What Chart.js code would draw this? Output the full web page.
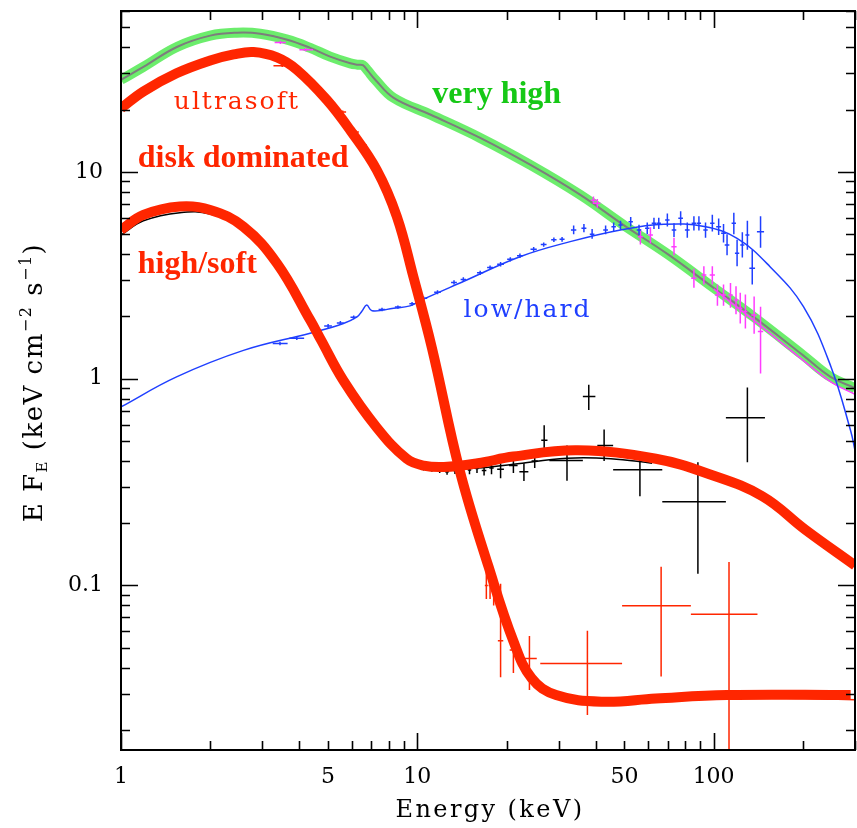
<!DOCTYPE html>
<html>
<head>
<meta charset="utf-8">
<script src="https://cdn.jsdelivr.net/npm/chart.js@4.4.1/dist/chart.umd.min.js"></script>
<style>
  html, body { margin: 0; padding: 0; background: #fff; }
  #wrap { width: 857px; height: 828px; }
</style>
</head>
<body>
<div id="wrap"><canvas id="spec" width="857" height="828"></canvas></div>
<script>
"use strict";
// ---- axis ticks ----
const xTickValues = [1, 2, 3, 4, 5, 6, 7, 8, 9, 10, 20, 30, 40, 50, 60, 70, 80, 90, 100, 200, 300];
const xTickLabels = [1, 5, 10, 50, 100];
const xMajorTicks = [1, 10, 100];
const yTickValues = [0.02, 0.03, 0.04, 0.05, 0.06, 0.07, 0.08, 0.09,
  0.1, 0.2, 0.3, 0.4, 0.5, 0.6, 0.7, 0.8, 0.9,
  1, 2, 3, 4, 5, 6, 7, 8, 9, 10, 20, 30, 40, 50, 60];
const yTickLabels = [0.1, 1, 10];
const yMajorTicks = [0.1, 1, 10];

// ---- model curves (energy keV, E F_E) ----
const veryHighE = [1, 1.19, 1.55, 2.0, 2.46, 2.95, 3.64, 4.35, 5.08, 5.94, 6.3, 6.55, 6.8, 7.2, 8.32, 11.1, 16.3, 24.1, 35.5, 50, 70, 100, 136.5, 200, 248, 300];
const veryHighF = [27.9, 32.2, 40.3, 45.6, 47.1, 46.6, 43.6, 39.8, 36.1, 33.5, 33.0, 32.8, 30.9, 28.0, 22.8, 18.9, 14.6, 10.8, 7.74, 5.5, 4.0, 2.75, 1.99, 1.30, 1.02, 0.90];

const veryHighModelE = [100, 140, 200, 250, 300];
const veryHighModelF = [2.72, 1.86, 1.23, 0.96, 0.84];

const ultrasoftE = [1, 1.19, 1.54, 2.0, 2.4, 2.8, 3.36, 3.92, 4.95, 5.94, 7.3, 8.53, 9.7, 11.2, 13.9, 17.4, 21.1, 24.3, 29.4, 42.2, 63.8, 111, 290];
const ultrasoftF = [20.3, 24.5, 30.0, 34.6, 37.0, 38.0, 35.8, 31.2, 22.3, 15.9, 10.2, 6.08, 3.11, 1.41, 0.36, 0.123, 0.0538, 0.0356, 0.0295, 0.0274, 0.0284, 0.0295, 0.0295];
const ultrasoftTailE = [60, 110, 200, 300];
const ultrasoftTailF = [0.0283, 0.0288, 0.0284, 0.0280];

const highSoftE = [1, 1.19, 1.58, 2.0, 2.59, 3.36, 4.35, 4.73, 5.63, 7.3, 9.2, 10.5, 12.3, 16, 21.1, 34.8, 63.8, 96.8, 146, 204, 300];
const highSoftF = [5.24, 6.19, 6.8, 6.55, 5.43, 3.61, 1.92, 1.54, 0.98, 0.58, 0.41, 0.38, 0.374, 0.39, 0.42, 0.45, 0.41, 0.345, 0.27, 0.186, 0.125];
const highSoftModelE = [1, 1.19, 1.58, 2.0, 2.59, 3.36, 4.35, 5.63, 7.3, 9.2, 12.1, 16, 21.1, 32, 45, 62];
const highSoftModelF = [4.95, 5.8, 6.35, 6.25, 5.3, 3.62, 1.95, 1.0, 0.59, 0.40, 0.365, 0.37, 0.386, 0.412, 0.41, 0.39];

const lowHardE = [1, 1.54, 2.59, 4.35, 5.63, 6.26, 6.5, 6.75, 7.03, 8.32, 9.45, 10.2, 14.3, 22.2, 32.8, 48.5, 67.9, 93, 120, 155, 201, 249, 290, 300];
const lowHardF = [0.73, 1.02, 1.37, 1.66, 1.85, 1.99, 2.12, 2.27, 2.13, 2.19, 2.25, 2.38, 2.95, 3.89, 4.6, 5.24, 5.58, 5.44, 4.77, 3.48, 2.23, 1.14, 0.56, 0.45];

// ---- data points: [E, Elo, Ehi, F, Flo, Fhi] ----
const lowHardPoints = [
  [3.44, 3.25, 3.65, 1.48, 1.45, 1.51], [3.92, 3.7, 4.15, 1.57, 1.54, 1.60],
  [4.5, 4.35, 4.65, 1.73, 1.69, 1.77], [5.0, 4.85, 5.15, 1.80, 1.76, 1.84],
  [5.5, 5.35, 5.65, 1.86, 1.82, 1.90], [6.1, 5.95, 6.25, 1.98, 1.94, 2.02],
  [7.6, 7.4, 7.8, 2.16, 2.12, 2.20], [8.6, 8.4, 8.8, 2.22, 2.18, 2.26],
  [9.6, 9.4, 9.8, 2.30, 2.25, 2.35], [10.5, 10.3, 10.8, 2.45, 2.40, 2.50],
  [11.7, 11.4, 12.0, 2.62, 2.56, 2.68], [13.3, 13.0, 13.6, 2.92, 2.85, 2.99],
  [14.3, 14.0, 14.6, 3.02, 2.95, 3.09], [16.3, 15.9, 16.7, 3.25, 3.17, 3.33],
  [17.6, 17.2, 18.0, 3.45, 3.37, 3.53], [19.1, 18.6, 19.6, 3.58, 3.49, 3.67],
  [20.6, 20.1, 21.1, 3.78, 3.69, 3.87], [22.2, 21.7, 22.7, 3.93, 3.83, 4.03],
  [24.7, 24.1, 25.3, 4.22, 4.11, 4.33], [26.7, 26.1, 27.3, 4.45, 4.34, 4.56],
  [28.9, 28.3, 29.5, 4.70, 4.58, 4.82], [30.8, 30.2, 31.4, 4.72, 4.60, 4.84],
  [33.7, 33.0, 34.4, 5.24, 5.0, 5.5], [36.5, 35.8, 37.2, 5.34, 5.1, 5.6],
  [38.9, 38.2, 39.6, 5.0, 4.75, 5.3], [43.2, 42.4, 44.0, 5.24, 5.0, 5.5],
  [46.0, 45.2, 46.8, 5.43, 5.15, 5.7], [48.5, 47.7, 49.3, 5.53, 5.25, 5.8],
  [52.5, 51.6, 53.4, 5.74, 5.45, 6.05], [56.0, 55.0, 57.0, 5.24, 4.95, 5.55],
  [59.7, 58.7, 60.7, 5.34, 5.0, 5.7], [62.9, 61.8, 64.0, 5.65, 5.3, 6.0],
  [65.3, 64.2, 66.4, 5.65, 5.3, 6.0], [69.8, 68.6, 71.0, 5.86, 5.45, 6.3],
  [73.5, 72.2, 74.8, 5.24, 4.85, 5.65], [77.4, 76.0, 78.8, 5.97, 5.5, 6.45],
  [81.5, 80.0, 83.0, 5.24, 4.8, 5.7], [85.8, 84.3, 87.3, 5.65, 5.2, 6.1],
  [89.2, 87.7, 90.7, 5.65, 5.2, 6.1], [93.9, 92.3, 95.5, 5.24, 4.8, 5.7],
  [99.0, 97.3, 100.7, 5.65, 5.15, 6.2], [104, 102, 106, 5.43, 4.95, 5.95],
  [108, 106, 110, 5.05, 4.55, 5.6], [111, 109, 113, 4.43, 3.95, 5.0],
  [117, 115, 119, 5.65, 5.0, 6.35], [120, 118, 122, 4.04, 3.5, 4.7],
  [125, 123, 127, 4.43, 3.85, 5.1], [130, 128, 132, 4.95, 4.2, 5.8],
  [135, 132, 138, 3.42, 2.85, 4.2], [144, 140, 148, 5.14, 4.3, 6.1]
];
const veryHighPoints = [
  [3.45, 3.3, 3.6, 42.3, 41.5, 43.1], [4.2, 4.0, 4.45, 39.0, 38.3, 39.7],
  [39.3, 38.5, 40.1, 7.3, 7.0, 7.6], [40.5, 39.5, 41.5, 7.05, 6.7, 7.4],
  [56.6, 55.5, 57.7, 4.86, 4.45, 5.3], [61.2, 60, 62.4, 4.95, 4.5, 5.4],
  [73.5, 72, 75, 4.35, 3.95, 4.8], [85.8, 84, 87.6, 3.06, 2.75, 3.4],
  [92.7, 91, 94.5, 3.17, 2.85, 3.5], [99, 97, 101, 3.17, 2.85, 3.5],
  [103, 101, 105, 2.54, 2.25, 2.85], [108, 106, 110, 2.54, 2.25, 2.85],
  [114, 112, 116, 2.54, 2.2, 2.9], [119, 117, 121, 2.40, 2.05, 2.8],
  [123, 121, 125, 2.19, 1.85, 2.6], [128, 126, 130, 2.11, 1.75, 2.55],
  [137, 134, 140, 2.03, 1.65, 2.5], [144, 141, 147, 1.69, 1.06, 2.23]
];
const ultrasoftPoints = [
  [3.5, 3.27, 3.72, 32.6, 32.2, 33.0], [5.6, 5.45, 5.75, 19.5, 19.2, 19.8],
  [6.2, 6.05, 6.35, 15.6, 15.3, 15.9], [6.6, 6.45, 6.75, 13.5, 13.2, 13.8],
  [17.1, 16.9, 17.3, 0.10, 0.086, 0.121], [17.6, 17.4, 17.8, 0.10, 0.086, 0.121],
  [18.1, 17.9, 18.3, 0.095, 0.08, 0.115], [19.1, 18.7, 19.5, 0.054, 0.036, 0.102],
  [21.1, 20.5, 21.7, 0.0487, 0.0377, 0.058], [23.9, 22.5, 25.3, 0.0443, 0.0312, 0.0569],
  [37.5, 26, 49.1, 0.0419, 0.0236, 0.0603], [66.5, 49.1, 83.8, 0.0798, 0.0363, 0.123],
  [112.7, 83.8, 140.6, 0.0726, 0.015, 0.130]
];
const highSoftPoints = [
  [3.45, 3.35, 3.55, 3.35, 3.28, 3.42], [4.0, 3.9, 4.1, 2.45, 2.4, 2.5],
  [5.0, 4.9, 5.1, 1.3, 1.27, 1.33], [6.6, 6.45, 6.75, 0.72, 0.7, 0.74],
  [8.4, 8.2, 8.6, 0.46, 0.45, 0.47],
  [10.5, 10.3, 10.7, 0.37, 0.36, 0.38], [11.2, 11.0, 11.4, 0.365, 0.355, 0.375],
  [11.9, 11.7, 12.1, 0.36, 0.35, 0.372], [12.6, 12.4, 12.8, 0.355, 0.343, 0.368],
  [13.4, 13.2, 13.6, 0.36, 0.346, 0.375], [14.2, 14.0, 14.4, 0.365, 0.35, 0.38],
  [15.0, 14.8, 15.2, 0.362, 0.345, 0.38], [15.9, 15.7, 16.1, 0.368, 0.35, 0.385],
  [16.8, 16.5, 17.1, 0.36, 0.34, 0.38], [17.8, 17.5, 18.1, 0.37, 0.345, 0.39],
  [19.1, 18.6, 19.6, 0.365, 0.33, 0.39], [21.1, 20.4, 21.8, 0.38, 0.35, 0.40],
  [22.9, 22.1, 23.7, 0.355, 0.32, 0.39], [24.9, 24.3, 25.5, 0.40, 0.37, 0.45],
  [26.8, 26.2, 27.5, 0.503, 0.425, 0.596], [32.0, 27.9, 36.2, 0.402, 0.321, 0.475],
  [37.9, 36.2, 39.9, 0.82, 0.705, 0.935], [42.7, 40.5, 45.8, 0.475, 0.40, 0.567],
  [56.4, 45.8, 67.1, 0.363, 0.27, 0.446], [88.5, 67.1, 110, 0.254, 0.114, 0.394],
  [130, 110, 149, 0.647, 0.394, 0.907]
];

// ---- text labels ----
const notes = [
  { text: 'ultrasoft', e: 1.507, f: 20.1, font: '25px "DejaVu Serif"', spacing: '2px', color: '#ff2600' },
  { text: 'disk dominated', e: 1.139, f: 10.54, font: 'bold 32px "Liberation Serif"', spacing: '0px', color: '#ff2600' },
  { text: 'high/soft', e: 1.139, f: 3.23, font: 'bold 32px "Liberation Serif"', spacing: '0px', color: '#ff2600' },
  { text: 'very high', e: 11.23, f: 21.6, font: 'bold 32px "Liberation Serif"', spacing: '0px', color: '#16c816' },
  { text: 'low/hard', e: 14.33, f: 1.99, font: '25px "DejaVu Serif"', spacing: '2px', color: '#1f3fff' }
];

const RED = '#ff2600', BLUE = '#1f3fff', MAGENTA = '#ff3cff', GREEN = 'rgba(100, 236, 100, 0.95)';

function curve(es, fs) {
  return es.map((e, i) => ({ x: e, y: fs[i] }));
}
function crosses(rows) {
  const pts = [];
  rows.forEach(([e, eLo, eHi, f, fLo, fHi]) => {
    pts.push({ x: eLo, y: f }, { x: eHi, y: f }, { x: e, y: null });
    pts.push({ x: e, y: fLo }, { x: e, y: fHi }, { x: e, y: null });
  });
  return pts;
}

// tick marks inside the frame, all four sides
const framePlugin = {
  id: 'frame',
  afterDatasetsDraw(chart) {
    const { ctx, chartArea: a } = chart;
    const xs = chart.scales.x, ys = chart.scales.y;
    ctx.save();
    ctx.strokeStyle = '#000';
    ctx.lineWidth = 1.6;
    ctx.beginPath();
    xTickValues.forEach(v => {
      const px = Math.round(xs.getPixelForValue(v)) + 0.5;
      const len = xMajorTicks.includes(v) ? 17 : 9;
      ctx.moveTo(px, a.bottom); ctx.lineTo(px, a.bottom - len);
      ctx.moveTo(px, a.top); ctx.lineTo(px, a.top + len);
    });
    yTickValues.forEach(v => {
      const py = Math.round(ys.getPixelForValue(v)) + 0.5;
      const len = yMajorTicks.includes(v) ? 17 : 9;
      ctx.moveTo(a.left, py); ctx.lineTo(a.left + len, py);
      ctx.moveTo(a.right, py); ctx.lineTo(a.right - len, py);
    });
    ctx.stroke();
    ctx.lineWidth = 2;
    ctx.strokeRect(a.left, a.top, a.right - a.left, a.bottom - a.top);
    ctx.restore();
  }
};

// curve labels and axis titles
const textPlugin = {
  id: 'texts',
  afterDraw(chart) {
    const { ctx, chartArea: a } = chart;
    const xs = chart.scales.x, ys = chart.scales.y;
    ctx.save();
    ctx.textAlign = 'left';
    ctx.textBaseline = 'alphabetic';
    notes.forEach(n => {
      ctx.font = n.font;
      ctx.letterSpacing = n.spacing;
      ctx.fillStyle = n.color;
      ctx.fillText(n.text, xs.getPixelForValue(n.e), ys.getPixelForValue(n.f));
    });

    ctx.fillStyle = '#000';
    ctx.letterSpacing = '2.4px';
    ctx.font = '24px "DejaVu Serif"';
    ctx.textAlign = 'center';
    ctx.fillText('Energy (keV)', (a.left + a.right) / 2 + 2, 817);

    // y title: E F_E (keV cm^-2 s^-1), rotated
    const parts = [
      { t: 'E F', size: 26, dy: 0 },
      { t: 'E', size: 15, dy: 5 },
      { t: ' (keV cm', size: 26, dy: 0 },
      { t: '\u22122', size: 16, dy: -11 },
      { t: ' s', size: 26, dy: 0 },
      { t: '\u22121', size: 16, dy: -11 },
      { t: ')', size: 26, dy: 0 }
    ];
    ctx.letterSpacing = '1.5px';
    ctx.textAlign = 'left';
    let total = 0;
    parts.forEach(p => {
      ctx.font = p.size + 'px "DejaVu Serif"';
      p.w = ctx.measureText(p.t).width;
      total += p.w;
    });
    ctx.translate(42, (a.top + a.bottom) / 2 + 2);
    ctx.rotate(-Math.PI / 2);
    let cx = -total / 2;
    parts.forEach(p => {
      ctx.font = p.size + 'px "DejaVu Serif"';
      ctx.fillText(p.t, cx, p.dy);
      cx += p.w;
    });
    ctx.restore();
  }
};

const lineBase = { pointRadius: 0, fill: false, spanGaps: false };
const smooth = { tension: 0.4, cubicInterpolationMode: 'default' };
const datasets = [
  Object.assign({}, lineBase, smooth, { data: curve(highSoftE, highSoftF), borderColor: RED, borderWidth: 10, borderJoinStyle: 'round' }),
  Object.assign({}, lineBase, smooth, { data: curve(ultrasoftE, ultrasoftF), borderColor: RED, borderWidth: 10, borderJoinStyle: 'round' }),
  Object.assign({}, lineBase, smooth, { data: curve(ultrasoftTailE, ultrasoftTailF), borderColor: RED, borderWidth: 1.5 }),
  Object.assign({}, lineBase, { data: crosses(ultrasoftPoints), borderColor: RED, borderWidth: 1.5, tension: 0 }),
  Object.assign({}, lineBase, smooth, { data: curve(highSoftModelE, highSoftModelF), borderColor: '#000', borderWidth: 1.5 }),
  Object.assign({}, lineBase, { data: crosses(highSoftPoints), borderColor: '#000', borderWidth: 1.5, tension: 0 }),
  Object.assign({}, lineBase, { data: crosses(lowHardPoints), borderColor: BLUE, borderWidth: 1.5, tension: 0 }),
  Object.assign({}, lineBase, smooth, { data: curve(lowHardE, lowHardF), borderColor: BLUE, borderWidth: 1.5 }),
  Object.assign({}, lineBase, { data: crosses(veryHighPoints), borderColor: MAGENTA, borderWidth: 1.5, tension: 0 }),
  Object.assign({}, lineBase, smooth, { data: curve(veryHighModelE, veryHighModelF), borderColor: MAGENTA, borderWidth: 1.5 }),
  Object.assign({}, lineBase, smooth, { data: curve(veryHighE, veryHighF), borderColor: '#7d7d7d', borderWidth: 2 }),
  Object.assign({}, lineBase, smooth, { data: curve(veryHighE, veryHighF), borderColor: GREEN, borderWidth: 10, borderJoinStyle: 'round' })
];
datasets.forEach((d, i) => { d.order = i; });

const tickFont = { family: 'DejaVu Serif', size: 22 };

new Chart(document.getElementById('spec').getContext('2d'), {
  type: 'line',
  data: { datasets: datasets },
  options: {
    responsive: false,
    animation: false,
    devicePixelRatio: 1,
    layout: { padding: { top: 11, right: 2, left: 0, bottom: 0 } },
    plugins: { legend: { display: false }, tooltip: { enabled: false } },
    scales: {
      x: {
        type: 'logarithmic',
        min: 1,
        max: 300,
        grid: { display: false, drawTicks: false },
        border: { display: false },
        afterBuildTicks: s => { s.ticks = xTickValues.map(v => ({ value: v })); },
        afterFit: s => {
          s.height = 78;
          s.paddingLeft = s.paddingRight = s.paddingTop = s.paddingBottom = 0;
        },
        ticks: {
          autoSkip: false, maxRotation: 0, minRotation: 0, padding: 14,
          color: '#000', font: tickFont,
          callback: v => xTickLabels.includes(v) ? String(v) : ''
        }
      },
      y: {
        type: 'logarithmic',
        min: 0.016,
        max: 60,
        grid: { display: false, drawTicks: false },
        border: { display: false },
        afterBuildTicks: s => { s.ticks = yTickValues.map(v => ({ value: v })); },
        afterFit: s => {
          s.width = 121;
          s.paddingLeft = s.paddingRight = s.paddingTop = s.paddingBottom = 0;
        },
        ticks: {
          autoSkip: false, padding: 18,
          color: '#000', font: tickFont,
          callback: v => yTickLabels.includes(v) ? String(v) : ''
        }
      }
    }
  },
  plugins: [framePlugin, textPlugin]
});
</script>
</body>
</html>
